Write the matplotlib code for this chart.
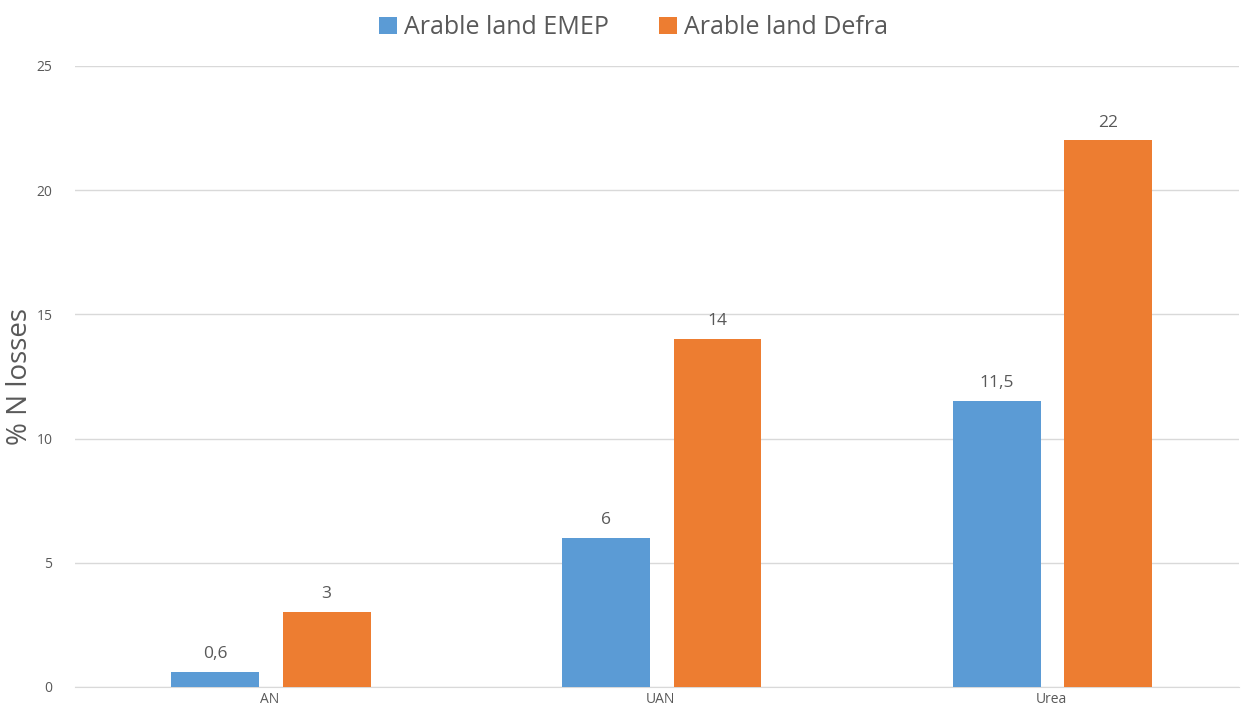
import matplotlib
matplotlib.use("Agg")
from matplotlib import pyplot as plt
import numpy as np

categories = ["AN", "UAN", "Urea"]
emep = [0.6, 6, 11.5]
defra = [3, 14, 22]
emep_labels = ["0,6", "6", "11,5"]
defra_labels = ["3", "14", "22"]

plt.rcParams['font.family'] = ['Open Sans', 'DejaVu Sans']
grey = "#595959"

fig = plt.figure(figsize=(12.43, 7.17), dpi=100)
ax = fig.add_axes([0.060, 0.042, 0.937, 0.866])

x = np.arange(len(categories))
w = 0.225
b1 = ax.bar(x - 0.14, emep, w, color="#5B9BD5", label="Arable land EMEP", zorder=3)
b2 = ax.bar(x + 0.145, defra, w, color="#ED7D31", label="Arable land Defra", zorder=3)

for bars, labs in ((b1, emep_labels), (b2, defra_labels)):
    for r, t in zip(bars, labs):
        ax.text(r.get_x() + r.get_width() / 2, r.get_height() + 0.4, t,
                ha="center", va="bottom", fontsize=12.5, color=grey)

ax.set_xlim(-0.5, 2.48)
ax.set_ylim(0, 25)
ax.set_yticks(range(0, 26, 5))
ax.set_xticks(x)
ax.set_xticklabels(categories)
ax.grid(axis="y", color="#d9d9d9", linewidth=1, zorder=0)
for s in ["top", "right", "left"]:
    ax.spines[s].set_visible(False)
ax.spines["bottom"].set_color("#d9d9d9")
ax.tick_params(axis="both", length=0, labelsize=10, colors=grey)
ax.tick_params(axis="y", pad=16)
ax.set_ylabel("% N losses", fontsize=20, color=grey)
ax.yaxis.set_label_coords(-0.035, 0.5)

fig.legend(loc="upper center", bbox_to_anchor=(0.51, 1.01), ncol=2, frameon=False,
           fontsize=18, labelcolor=grey, handlelength=0.7, handleheight=0.7,
           handletextpad=0.3, columnspacing=2.0)

fig.savefig("out.png", dpi=100)
